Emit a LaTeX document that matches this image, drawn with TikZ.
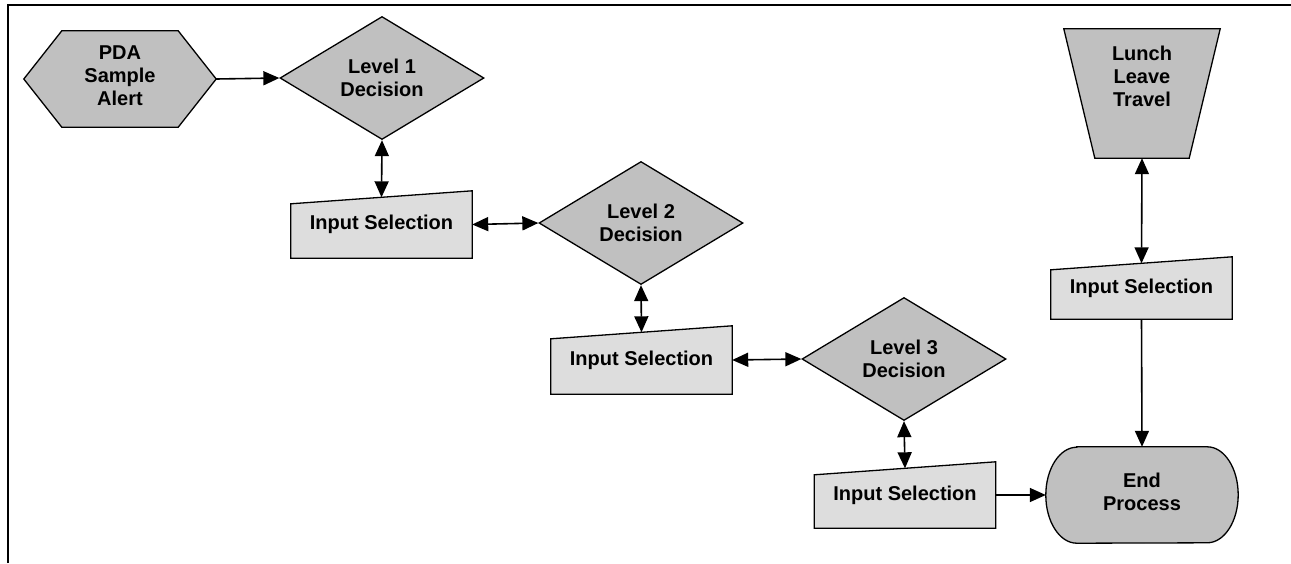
\documentclass[tikz,border=0pt]{standalone}
\usepackage{fontspec}
\setmainfont{Liberation Sans}
\usetikzlibrary{shapes.geometric,arrows.meta,backgrounds}
\definecolor{darkfill}{gray}{0.753}
\definecolor{lightfill}{gray}{0.867}
\begin{document}
\begin{tikzpicture}[x=1pt,y=-1pt,
  txt/.style={font=\fontsize{20}{23}\selectfont\bfseries,align=center,inner sep=0pt},
  box/.style={txt,minimum width=181pt},
  dia/.style={txt,diamond,draw,line width=1.3pt,fill=darkfill,minimum width=204pt,minimum height=123pt},
  shp/.style={draw,line width=1.3pt,fill=darkfill,line join=miter},
  inshape/.style={draw,line width=1.3pt,fill=lightfill},
  conn/.style={line width=1.6pt,-{Triangle[length=16pt,width=14pt]}},
  dconn/.style={line width=1.6pt,{Triangle[length=16pt,width=14pt]}-{Triangle[length=16pt,width=14pt]}}
]
\useasboundingbox (0,0) rectangle (1291,563);
% frame
\draw[line width=2.6pt] (8,563) -- (8,5) -- (1291,5);

% hexagon
\node[txt,minimum width=192pt,minimum height=96pt] (pda) at (120,79) {};
\node[txt] (pdat) at (120,76) {PDA\\Sample\\Alert};
% diamonds
\node[dia] (l1) at (382,78) {Level 1\\Decision};
\node[dia] (l2) at (641,223) {Level 2\\Decision};
\node[dia] (l3) at (904,359) {Level 3\\Decision};
% input boxes
\node[box,minimum height=67pt] (in1) at (381.5,224.5) {Input Selection};
\node[box,minimum height=68pt] (in2) at (641.5,360) {Input Selection};
\node[box,minimum height=66pt] (in3) at (905,495) {Input Selection};
\node[box,minimum height=62pt] (in4) at (1141.5,288) {Input Selection};
% trapezoid
\node[txt,minimum width=156pt,minimum height=129pt] (llt) at (1142,93.5) {};
\node[txt] (lltt) at (1142,76) {Lunch\\Leave\\Travel};
% end process
\node[txt,minimum width=192pt,minimum height=96pt] (endp) at (1142,495) {};
\node[txt] (endt) at (1142,492) {End\\Process};

\begin{scope}[on background layer]
  \draw[shp] (pda.west) -- ([xshift=38pt]pda.north west) -- ([xshift=-38pt]pda.north east)
     -- (pda.east) -- ([xshift=-38pt]pda.south east) -- ([xshift=38pt]pda.south west) -- cycle;
  \foreach \b in {in1,in2,in3,in4}{
    \draw[inshape] (\b.south west) -- (\b.south east) -- (\b.north east)
       -- ([yshift=-13pt]\b.north west) -- cycle;
  }
  \draw[shp] (llt.north west) -- (llt.north east) -- ([xshift=-31pt]llt.south east)
     -- ([xshift=31pt]llt.south west) -- cycle;
  \draw[shp] ([xshift=31pt]endp.north west) -- ([xshift=-31pt]endp.north east)
     arc[start angle=90,end angle=-90,x radius=31pt,y radius=48pt]
     -- ([xshift=31pt]endp.south west)
     arc[start angle=270,end angle=90,x radius=31pt,y radius=48pt] -- cycle;
\end{scope}

% connectors
\coordinate (in1t) at ([yshift=-6.5pt]in1.north);
\coordinate (in2t) at ([yshift=-6.5pt]in2.north);
\coordinate (in3t) at ([yshift=-6.5pt]in3.north);
\coordinate (in4t) at ([yshift=-6.5pt]in4.north);
\draw[conn] (pda.east) -- (l1.west);
\draw[dconn] (l1.south) -- (in1t);
\draw[dconn] (in1.east) -- (l2.west);
\draw[dconn] (l2.south) -- (in2t);
\draw[dconn] (in2.east) -- (l3.west);
\draw[dconn] (l3.south) -- (in3t);
\draw[conn] (in3.east) -- (endp.west);
\draw[dconn] (llt.south) -- (in4t);
\draw[conn] (in4.south) -- (endp.north);
\end{tikzpicture}
\end{document}
